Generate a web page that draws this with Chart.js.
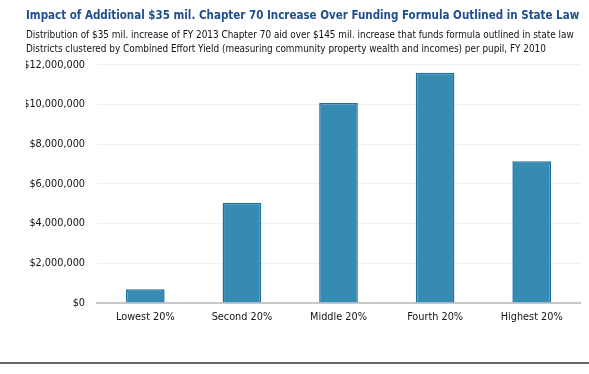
<!DOCTYPE html>
<html>
<head>
<meta charset="utf-8">
<script src="https://cdn.jsdelivr.net/npm/chart.js@4.4.1/dist/chart.umd.min.js"></script>
<style>
  html, body { margin: 0; padding: 0; background: #fff; }
  #wrap { width: 589px; height: 374px; position: relative; }
</style>
</head>
<body>
<div id="wrap"><canvas id="cyChart" width="589" height="374"></canvas></div>
<script>
// chart data
const categories = ['Lowest 20%', 'Second 20%', 'Middle 20%', 'Fourth 20%', 'Highest 20%'];
const increaseValues = [700000, 5050000, 10080000, 11600000, 7140000];
const yTicks = [0, 2000000, 4000000, 6000000, 8000000, 10000000, 12000000];

const titleText = 'Impact of Additional $35 mil. Chapter 70 Increase Over Funding Formula Outlined in State Law';
const subtitleLines = [
    'Distribution of $35 mil. increase of FY 2013 Chapter 70 aid over $145 mil. increase that funds formula outlined in state law',
    'Districts clustered by Combined Effort Yield (measuring community property wealth and incomes) per pupil, FY 2010'
];

const FAMILY = '"Liberation Sans Narrow", "DejaVu Sans Condensed", Lato, sans-serif';

// pick a font size so that text spans roughly the given width
function fitSize(text, weight, maxSize, width) {
    const c = document.createElement('canvas').getContext('2d');
    c.font = weight + ' 100px ' + FAMILY;
    const s = width / c.measureText(text).width * 100;
    return Math.min(maxSize, Math.round(s * 10) / 10);
}

const titleSize = fitSize(titleText, 'bold', 14, 553);
const subSize = fitSize(subtitleLines[0], 'normal', 11, 550);
const tickSize = fitSize('$12,000,000', 'normal', 12, 62);

// thin dark rule under the chart
const bottomRule = {
    id: 'bottomRule',
    afterDraw(chart) {
        const c = chart.ctx;
        c.save();
        c.strokeStyle = '#333333';
        c.lineWidth = 1.5;
        c.beginPath();
        c.moveTo(0, 363);
        c.lineTo(chart.width, 363);
        c.stroke();
        c.restore();
    }
};

const ctx = document.getElementById('cyChart').getContext('2d');
new Chart(ctx, {
    type: 'bar',
    data: {
        labels: categories,
        datasets: [{
            label: 'Increase',
            data: increaseValues,
            backgroundColor: '#368bb3',
            borderColor: '#1f6e9c',
            borderWidth: 1.5,
            categoryPercentage: 1.0,
            barPercentage: 0.4
        }]
    },
    options: {
        responsive: false,
        animation: false,
        layout: { padding: { left: 26, right: 9, top: 0, bottom: 42 } },
        plugins: {
            legend: { display: false },
            tooltip: { enabled: false },
            title: {
                display: true,
                text: titleText,
                align: 'start',
                color: '#1f4e8c',
                font: { family: FAMILY, size: titleSize, weight: 'bold' },
                padding: { top: 9, bottom: 6 }
            },
            subtitle: {
                display: true,
                text: subtitleLines,
                align: 'start',
                color: '#111111',
                font: { family: FAMILY, size: subSize, lineHeight: '14px' },
                padding: { top: 0, bottom: 8 }
            }
        },
        scales: {
            x: {
                grid: { display: false, drawTicks: false },
                border: { color: '#c8c8c8', width: 2 },
                ticks: { color: '#111111', padding: 8, font: { family: FAMILY, size: tickSize } }
            },
            y: {
                min: 0,
                max: 12000000,
                afterFit(scale) { scale.width = 71; },
                afterBuildTicks(scale) { scale.ticks = yTicks.map(v => ({ value: v })); },
                grid: { color: '#efefef', drawTicks: false },
                border: { display: false },
                ticks: {
                    color: '#111111',
                    padding: 12,
                    font: { family: FAMILY, size: tickSize },
                    callback: v => '$' + v.toLocaleString('en-US')
                }
            }
        }
    },
    plugins: [bottomRule]
});
</script>
</body>
</html>
